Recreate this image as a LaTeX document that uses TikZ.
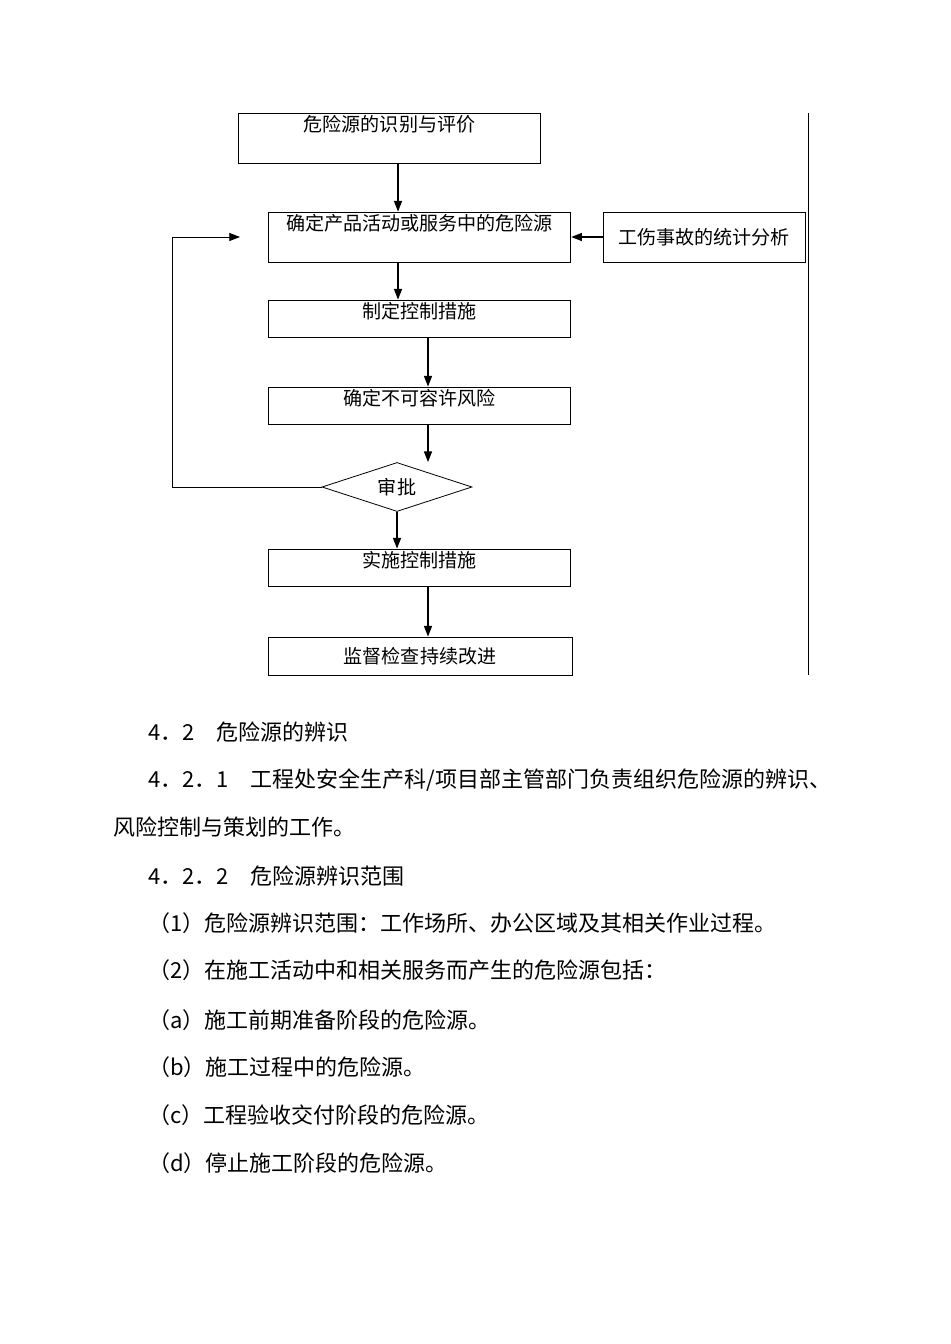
\documentclass[tikz,border=0pt]{standalone}
\usepackage{fontspec}
\usepackage{tikz}
\usetikzlibrary{shapes.geometric,arrows.meta}
\newfontfamily\cjk{Noto Sans CJK SC}

\tikzset{
  flowbox/.style={draw, line width=0.6pt, minimum width=227pt, inner sep=3pt,
    font=\cjk\fontsize{14.3}{14.3}\selectfont},
  tallbox/.style={flowbox, minimum height=37.5pt, text height=11pt, text depth=20.5pt},
  lowbox/.style={flowbox, minimum height=27.75pt, text height=11pt, text depth=10.75pt},
  checkbox/.style={draw, line width=0.6pt, diamond, aspect=3, inner sep=1pt,
    minimum width=112.5pt, minimum height=36.75pt, font=\cjk\fontsize{14.3}{14.3}\selectfont},
  flowarr/.style={-{Triangle[length=8pt,width=6pt]}, line width=0.9pt},
  bodytext/.style={anchor=west, inner sep=0pt, font=\cjk\fontsize{16.5}{16.5}\selectfont}
}

\begin{document}
\begin{tikzpicture}[x=0.75pt, y=-0.75pt]
\useasboundingbox (0,0) rectangle (950,1344);
% flow chart
\begin{scope}
\node[tallbox] (ident) at (389.5,138) {危险源的识别与评价};
\node[tallbox] (hazard) at (419.5,237) {确定产品活动或服务中的危险源};
\node[flowbox, minimum width=151.5pt, minimum height=37.5pt] (stats) at (704,237) {工伤事故的统计分析};
\node[lowbox] (measure) at (419.5,318.5) {制定控制措施};
\node[lowbox] (risk) at (419.5,405.5) {确定不可容许风险};
\node[checkbox] (approve) at (397,487) {审批};
\node[lowbox] (apply) at (419.5,567.5) {实施控制措施};
\node[flowbox, minimum width=228pt, minimum height=28.5pt] (review) at (420,656) {监督检查持续改进};
% columns of the arrows
\coordinate (colA) at (398,0);
\coordinate (colB) at (428,0);
\coordinate (colL) at (172,0);
\coordinate (loopend) at (240,237);
% arrows
\draw[flowarr] (ident.south -| colA) -- (hazard.north -| colA);
\draw[flowarr] (hazard.south -| colA) -- (measure.north -| colA);
\draw[flowarr] (measure.south -| colB) -- (risk.north -| colB);
\draw[flowarr] (risk.south -| colB) -- (approve.north -| colB);
\draw[flowarr] (approve.south) -- (apply.north -| approve.south);
\draw[flowarr] (apply.south -| colB) -- (review.north -| colB);
\draw[flowarr] (stats.west) -- (hazard.east);
% back to the hazards
\draw[flowarr, line width=0.6pt] (approve.west) -- (approve.west -| colL) |- (loopend);
% right rule
\coordinate (ruletop) at (808,113);
\coordinate (rulebot) at (808,675);
\draw[line width=0.5pt] (ruletop) -- (rulebot);
\end{scope}

% text below
\node[bodytext] (t1) at (148,732) {4．2　危险源的辨识};
\node[bodytext] (t2) at (148,780) {4．2．1　工程处安全生产科/项目部主管部门负责组织危险源的辨识、};
\node[bodytext] (t3) at (113,827) {风险控制与策划的工作。};
\node[bodytext] (t4) at (148,876) {4．2．2　危险源辨识范围};
\node[bodytext] (t5) at (148,923) {（1）危险源辨识范围：工作场所、办公区域及其相关作业过程。};
\node[bodytext] (t6) at (148,970) {（2）在施工活动中和相关服务而产生的危险源包括：};
\node[bodytext] (t7) at (148,1020) {（a）施工前期准备阶段的危险源。};
\node[bodytext] (t8) at (148,1067) {（b）施工过程中的危险源。};
\node[bodytext] (t9) at (148,1115) {（c）工程验收交付阶段的危险源。};
\node[bodytext] (t10) at (148,1163) {（d）停止施工阶段的危险源。};
\end{tikzpicture}
\end{document}
